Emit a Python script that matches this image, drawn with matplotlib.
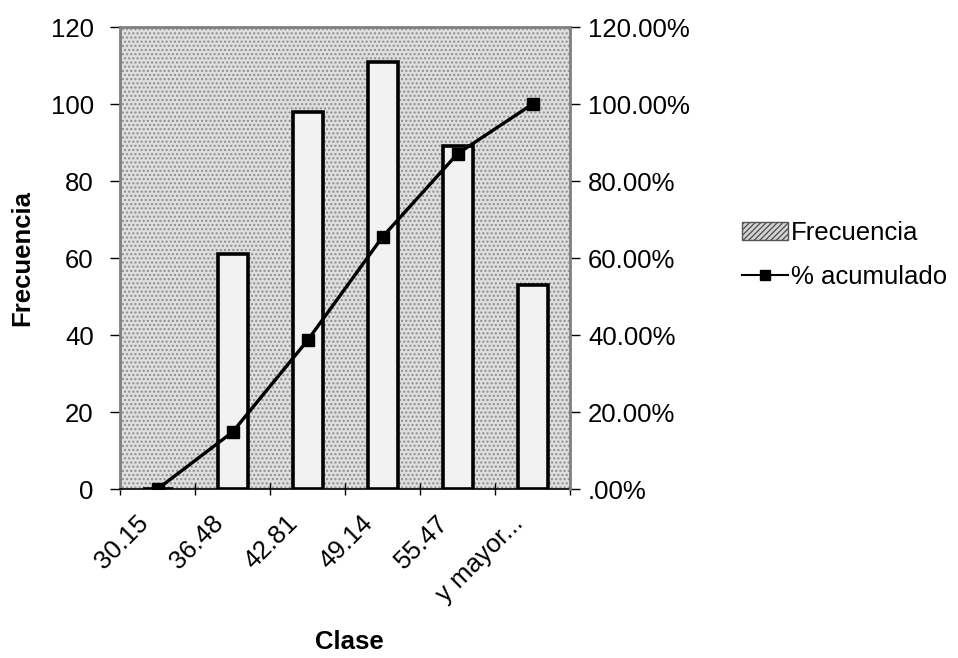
import numpy as np
import matplotlib.pyplot as plt
from matplotlib.patches import Rectangle, Patch
from matplotlib.lines import Line2D

plt.rcParams['font.family'] = ['Liberation Sans', 'DejaVu Sans']

# datos
clases = ['30.15', '36.48', '42.81', '49.14', '55.47', 'y mayor...']
frecuencia = [0, 61, 98, 111, 89, 53]
acumulado = [0.0, 0.148, 0.386, 0.655, 0.871, 1.0]
yticks_izq = [0, 20, 40, 60, 80, 100, 120]
yticks_der = [0.0, 0.2, 0.4, 0.6, 0.8, 1.0, 1.2]
etiquetas_der = ['.00%', '20.00%', '40.00%', '60.00%', '80.00%', '100.00%', '120.00%']

fs = 18.5

fig = plt.figure(figsize=(9.58, 6.58), dpi=100)
ax = fig.add_axes([0.1253, 0.2568, 0.4697, 0.702])
ax2 = ax.twinx()

x = np.arange(len(clases))

# fondo punteado
fondo = Rectangle((0, 0), 1, 1, transform=ax.transAxes, facecolor='#dedede',
                  edgecolor='#8c8c8c', hatch='....', lw=0, zorder=0)
ax.add_patch(fondo)
ax.set_facecolor('white')

ax.bar(x, frecuencia, width=0.4, facecolor='#f2f2f2', edgecolor='black',
       linewidth=2.6, zorder=2)

ax2.plot(x, acumulado, color='black', lw=2.4, marker='s', markersize=9,
         markerfacecolor='black', zorder=3)

ax.set_xlim(-0.5, len(clases) - 0.5)
ax.set_ylim(0, 120)
ax2.set_ylim(0, 1.2)

ax.set_yticks(yticks_izq)
ax.set_yticklabels([str(v) for v in yticks_izq], fontsize=fs)
ax2.set_yticks(yticks_der)
ax2.set_yticklabels(etiquetas_der, fontsize=fs)

# etiquetas un poco a la izquierda del centro, como en el original
ax.set_xticks(x - 0.29)
ax.set_xticklabels(clases, rotation=45, ha='right', rotation_mode='anchor', fontsize=fs)
ax.set_xticks(np.arange(len(clases) + 1) - 0.5, minor=True)
ax.tick_params(axis='x', which='major', length=0, pad=16)
ax.tick_params(axis='x', which='minor', length=8, direction='inout', width=1)
ax.tick_params(axis='y', length=7, width=1, pad=12)
ax2.tick_params(axis='y', length=7, width=1, pad=6)

ax.spines['right'].set_visible(False)
for s in ['top', 'left', 'bottom']:
    ax2.spines[s].set_visible(False)
for sp in [ax.spines['left'], ax.spines['top'], ax2.spines['right']]:
    sp.set_color('#808080')
    sp.set_linewidth(2)
ax.spines['bottom'].set_linewidth(1.2)

ax.set_ylabel('Frecuencia', fontsize=fs, fontweight='bold')
ax.yaxis.set_label_coords(-0.19, 0.5)
ax.set_xlabel('Clase', fontsize=fs, fontweight='bold')
ax.xaxis.set_label_coords(0.509, -0.305)

handles = [Patch(facecolor='#d6d6d6', edgecolor='#555555', hatch='//////', lw=1),
           Line2D([], [], color='black', lw=1.5, marker='s', markersize=7)]
fig.legend(handles, ['Frecuencia', '% acumulado'], loc='center left',
           bbox_to_anchor=(0.75, 0.6125), frameon=False, fontsize=fs,
           handlelength=1.8, handletextpad=0.12, labelspacing=0.8)

fig.savefig('out.png', dpi=100)
